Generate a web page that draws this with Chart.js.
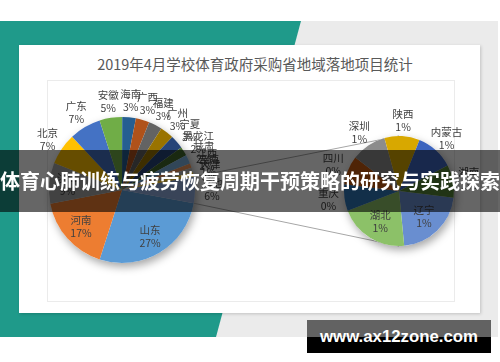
<!DOCTYPE html>
<html>
<head>
<meta charset="utf-8">
<script src="https://cdn.jsdelivr.net/npm/chart.js@4.4.0/dist/chart.umd.min.js"></script>
<style>
html, body { margin: 0; padding: 0; background: #fff; }
#page { position: relative; width: 500px; height: 362px; overflow: hidden; font-family: "Noto Sans CJK SC", sans-serif; }
#gray { position: absolute; left: 0; top: 21px; width: 498px; height: 316px; background: #ebebeb; }
#teal { position: absolute; left: 0; top: 21px; width: 301px; height: 316px; background: #1f9a8a;
        clip-path: polygon(0 0, 301px 0, 216px 316px, 0 316px); }
#card { position: absolute; left: 19px; top: 45px; width: 461px; height: 268px; background: #fff;
        box-shadow: 1px 1px 3px rgba(0,0,0,0.18); }
#plot { position: absolute; left: 47px; top: 80px; width: 408px; height: 222px; border: 1px solid #ebebeb; box-sizing: border-box; }
#title { position: absolute; left: 30px; width: 450px; top: 54px; line-height: 20px; text-align: center;
         font-size: 14.5px; color: #595959; }
canvas { position: absolute; left: 0; top: 0; }
#banner { position: absolute; left: 0; top: 150px; width: 500px; height: 62px; background: rgba(0,0,0,0.6);
          color: #fff; font-weight: 700; font-size: 20px; line-height: 62px; text-align: center; white-space: nowrap; }
#mark { position: absolute; left: 307px; top: 320px; width: 184px; height: 33px;
        background: linear-gradient(#626262 0, #626262 17px, #000 17px, #000 33px);
        color: #fff; font: 700 16.8px "Liberation Sans", Arial, sans-serif; line-height: 33px; text-align: center; }
</style>
</head>
<body>
<div id="page">
  <div id="gray"></div>
  <div id="teal"></div>
  <div id="card"></div>
  <div id="plot"></div>
  <div id="title">2019年4月学校体育政府采购省地域落地项目统计</div>
  <canvas id="cMain" width="500" height="362"></canvas>
  <canvas id="cSub" width="500" height="362"></canvas>
  <div id="banner">体育心肺训练与疲劳恢复周期干预策略的研究与实践探索</div>
  <div id="mark">www.ax12zone.com</div>
</div>
<script>
// 主饼图 (百分比)
const mainLabels = ['山东', '河南', '浙江', '北京', '广东', '安徽', '海南', '广西', '福建', '广州', '宁夏', '黑龙江', '甘肃', '江西', '云南', '天津'];
const mainValues = [27, 17, 9, 7, 7, 5, 3, 3, 3, 3, 3, 2, 2, 1, 1, 1];
// 第二绘图区 (其他)
const subLabels = ['辽宁', '湖北', '重庆', '四川', '深圳', '陕西', '内蒙古', '湖南'];
const subValues = [1.25, 1.2, 0.45, 0.49, 0.6, 0.6, 0.65, 0.56];
const otherLabel = '其他';

const mainColors = ['#5b9bd5', '#ed7d31', '#a5a5a5', '#ffc000', '#4472c4', '#70ad47', '#255e91', '#b0521a',
                    '#636363', '#997300', '#264478', '#43682b', '#7cafdd', '#f1975a', '#b7b7b7', '#ffcd33', '#8faadc'];
const subColors = ['#698ed0', '#8cc168', '#2e75b6', '#c55a11', '#8c8c8c', '#d8a800', '#3c64be', '#548235'];

const otherTotal = subValues.reduce((a, b) => a + b, 0);
const grandTotal = mainValues.reduce((a, b) => a + b, 0) + otherTotal;

// 阴影
const shadowPlugin = {
    id: 'pieShadow',
    beforeDatasetsDraw(chart) {
        const arc = chart.getDatasetMeta(0).data[0];
        const ctx = chart.ctx;
        ctx.save();
        ctx.shadowColor = 'rgba(0,0,0,0.35)';
        ctx.shadowBlur = 9;
        ctx.shadowOffsetX = 2;
        ctx.shadowOffsetY = 4;
        ctx.fillStyle = '#fff';
        ctx.beginPath();
        ctx.arc(arc.x, arc.y, arc.outerRadius, 0, Math.PI * 2);
        ctx.fill();
        ctx.restore();
    }
};

// 数据标签: 名称 + 百分比
const labelPlugin = {
    id: 'sliceLabels',
    afterDatasetsDraw(chart, args, opts) {
        const ctx = chart.ctx;
        const meta = chart.getDatasetMeta(0);
        const data = chart.data.datasets[0].data;
        const sum = data.reduce((a, b) => a + b, 0);
        ctx.save();
        ctx.font = '10.5px "Noto Sans CJK SC", sans-serif';
        ctx.fillStyle = '#404040';
        ctx.textAlign = 'center';
        ctx.textBaseline = 'middle';
        meta.data.forEach((arc, i) => {
            const mid = (arc.startAngle + arc.endAngle) / 2;
            const inside = data[i] / sum >= opts.insideMin;
            const d = inside ? arc.outerRadius * opts.insideR : arc.outerRadius + opts.gap;
            const x = arc.x + Math.cos(mid) * d;
            const y = arc.y + Math.sin(mid) * d;
            ctx.fillText(chart.data.labels[i], x, y - 6.5);
            ctx.fillText(Math.round(data[i] / grandTotal * 100) + '%', x, y + 6.5);
        });
        ctx.restore();
    }
};

const mainChart = new Chart(document.getElementById('cMain'), {
    type: 'pie',
    data: {
        labels: mainLabels.concat([otherLabel]),
        datasets: [{ data: mainValues.concat([otherTotal]), backgroundColor: mainColors, borderWidth: 0 }]
    },
    options: {
        responsive: false,
        animation: false,
        devicePixelRatio: 1,
        rotation: 90 + otherTotal / grandTotal * 180,
        layout: { padding: { left: 49, right: 305, top: 117, bottom: 99 } },
        plugins: {
            legend: { display: false },
            tooltip: { enabled: false },
            sliceLabels: { insideMin: 0.09, insideR: 0.75, gap: 17 }
        }
    },
    plugins: [shadowPlugin, labelPlugin]
});

// 连接线
const connectorPlugin = {
    id: 'connectors',
    beforeDatasetsDraw(chart) {
        const mainMeta = mainChart.getDatasetMeta(0);
        const other = mainMeta.data[mainMeta.data.length - 1];
        const sub = chart.getDatasetMeta(0).data[0];
        const p1 = [other.x + Math.cos(other.startAngle) * other.outerRadius, other.y + Math.sin(other.startAngle) * other.outerRadius];
        const p2 = [other.x + Math.cos(other.endAngle) * other.outerRadius, other.y + Math.sin(other.endAngle) * other.outerRadius];
        const top = p1[1] < p2[1] ? p1 : p2;
        const bot = p1[1] < p2[1] ? p2 : p1;
        const ctx = chart.ctx;
        ctx.save();
        ctx.strokeStyle = '#a6a6a6';
        ctx.lineWidth = 1;
        ctx.beginPath();
        ctx.moveTo(top[0], top[1]);
        ctx.lineTo(sub.x, sub.y - sub.outerRadius);
        ctx.moveTo(bot[0], bot[1]);
        ctx.lineTo(sub.x, sub.y + sub.outerRadius);
        ctx.stroke();
        ctx.restore();
    }
};

new Chart(document.getElementById('cSub'), {
    type: 'pie',
    data: {
        labels: subLabels,
        datasets: [{ data: subValues, backgroundColor: subColors, borderWidth: 0 }]
    },
    options: {
        responsive: false,
        animation: false,
        devicePixelRatio: 1,
        rotation: 97,
        layout: { padding: { left: 344, right: 46, top: 136, bottom: 116 } },
        plugins: {
            legend: { display: false },
            tooltip: { enabled: false },
            sliceLabels: { insideMin: 0.15, insideR: 0.65, gap: 16 }
        }
    },
    plugins: [connectorPlugin, shadowPlugin, labelPlugin]
});
</script>
</body>
</html>
